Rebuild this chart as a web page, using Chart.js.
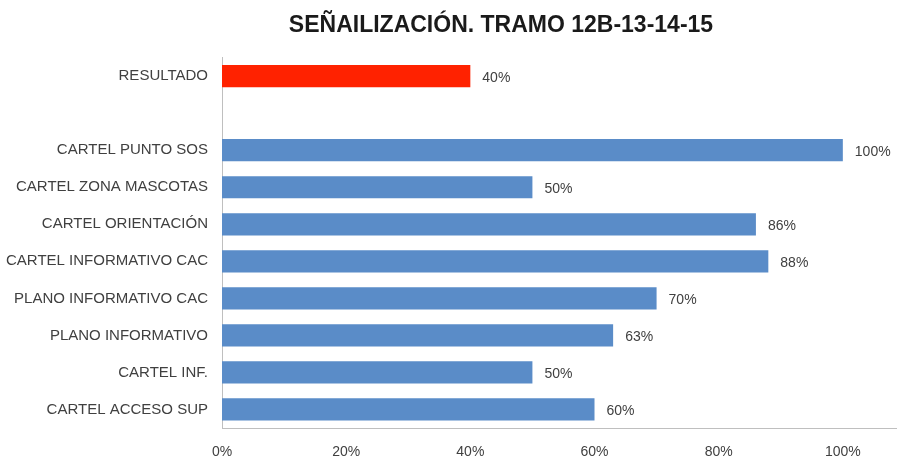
<!DOCTYPE html>
<html>
<head>
<meta charset="utf-8">
<script src="https://cdn.jsdelivr.net/npm/chart.js@4"></script>
<style>
  html, body { margin: 0; padding: 0; background: #fff; overflow: hidden; }
  #wrap { width: 1002px; height: 460px; }
</style>
</head>
<body>
<div id="wrap"><canvas id="signChart"></canvas></div>
<script>
// Categories, top to bottom (blank slot separates the total from the items)
const categories = [
  'RESULTADO',
  '',
  'CARTEL PUNTO SOS',
  'CARTEL ZONA MASCOTAS',
  'CARTEL ORIENTACIÓN',
  'CARTEL INFORMATIVO CAC',
  'PLANO INFORMATIVO CAC',
  'PLANO INFORMATIVO',
  'CARTEL INF.',
  'CARTEL ACCESO SUP'
];
// Percentage per category
const percentages = [40, null, 100, 50, 86, 88, 70, 63, 50, 60];
// Axis ticks
const axisMax = 120;
const axisStep = 20;

const FONT = '"Liberation Sans", Arial, sans-serif';
const TEXT = '#404040';
const AXIS = '#bfbfbf';
const BLUE = '#5a8cc8';
const RED = '#ff2200';

// Writes the value just past the end of every bar
const barLabels = {
  id: 'barLabels',
  afterDatasetsDraw(chart) {
    const ctx = chart.ctx;
    const meta = chart.getDatasetMeta(0);
    ctx.save();
    ctx.font = '14px ' + FONT;
    ctx.fillStyle = TEXT;
    ctx.textBaseline = 'middle';
    meta.data.forEach((bar, i) => {
      const v = percentages[i];
      if (v == null) return;
      ctx.fillText(v + '%', bar.x + 12, bar.y + 2);
    });
    ctx.restore();
  }
};

// Centre the title over the same span as the right padding
const titleInset = {
  id: 'titleInset',
  afterLayout(chart) {
    if (chart.titleBlock) chart.titleBlock.left += 35;
  }
};

new Chart(document.getElementById('signChart'), {
  type: 'bar',
  data: {
    labels: categories,
    datasets: [{
      data: percentages,
      backgroundColor: c => (c.dataIndex === 0 ? RED : BLUE),
      barPercentage: 0.6,
      categoryPercentage: 1
    }]
  },
  plugins: [barLabels, titleInset],
  options: {
    indexAxis: 'y',
    responsive: true,
    maintainAspectRatio: false,
    animation: false,
    layout: { padding: { top: 4, left: 0, right: 35, bottom: 0 } },
    plugins: {
      legend: { display: false },
      tooltip: { enabled: false },
      title: {
        display: true,
        text: 'SEÑAILIZACIÓN. TRAMO 12B-13-14-15',
        color: '#1a1a1a',
        font: { family: FONT, size: 23, weight: 'bold' },
        padding: { top: 8, bottom: 18 }
      }
    },
    scales: {
      x: {
        min: 0,
        max: axisMax,
        grid: { display: false, drawTicks: false },
        border: { display: true, color: AXIS, width: 1 },
        afterFit: s => { s.height = 32; },
        ticks: {
          stepSize: axisStep,
          padding: 16,
          color: TEXT,
          font: { family: FONT, size: 14 },
          callback: v => v + '%'
        }
      },
      y: {
        grid: { display: false, drawTicks: false },
        border: { display: true, color: AXIS, width: 1 },
        afterFit: s => { s.width = 222; },
        ticks: {
          padding: 14,
          color: TEXT,
          font: { family: FONT, size: 15 }
        }
      }
    }
  }
});
</script>
</body>
</html>
